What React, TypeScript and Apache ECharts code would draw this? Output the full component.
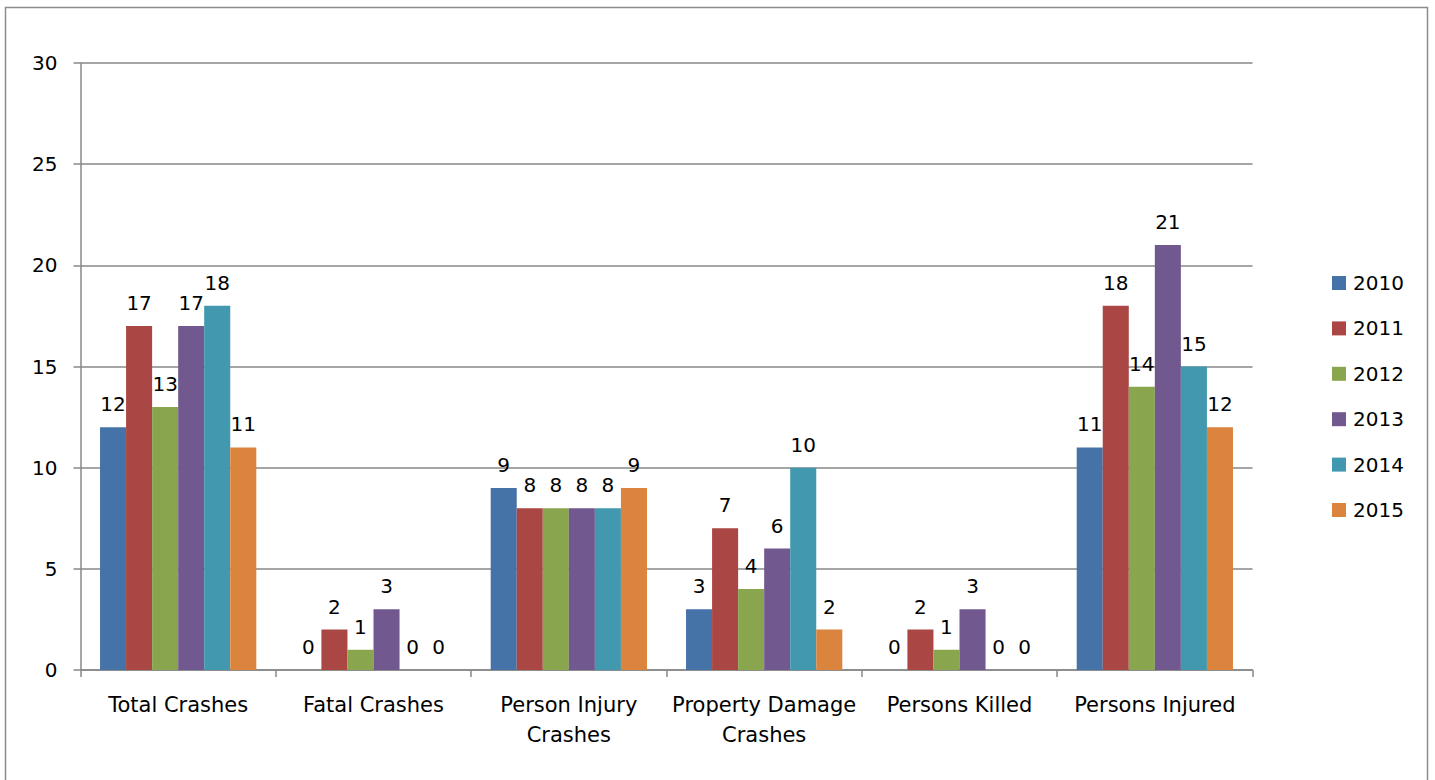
import React, { useEffect, useRef } from "react";
import * as echarts from "echarts";

const categories = [
  "Total Crashes",
  "Fatal Crashes",
  "Person Injury\nCrashes",
  "Property Damage\nCrashes",
  "Persons Killed",
  "Persons Injured",
];
const years = ["2010", "2011", "2012", "2013", "2014", "2015"];
const v2010 = [12, 0, 9, 3, 0, 11];
const v2011 = [17, 2, 8, 7, 2, 18];
const v2012 = [13, 1, 8, 4, 1, 14];
const v2013 = [17, 3, 8, 6, 3, 21];
const v2014 = [18, 0, 8, 10, 0, 15];
const v2015 = [11, 0, 9, 2, 0, 12];
const seriesValues = [v2010, v2011, v2012, v2013, v2014, v2015];
const colors = ["#4572A7", "#AA4643", "#89A54E", "#71588F", "#4198AF", "#DB843D"];

const FONT = "DejaVu Sans";
const GRAY = "#878787";

export default function App() {
  const ref = useRef<HTMLDivElement>(null);
  useEffect(() => {
    if (!ref.current) return;
    const chart = echarts.init(ref.current, undefined, { renderer: "svg" });
    chart.setOption({
      animation: false,
      color: colors,
      textStyle: { fontFamily: FONT },
      graphic: [
        {
          type: "rect",
          shape: { x: 5.5, y: 7.5, width: 1422, height: 820 },
          style: { fill: "none", stroke: "#8c8c8c", lineWidth: 1.5 },
          silent: true,
        },
      ],
      grid: { left: 80.5, right: 182.5, top: 63, bottom: 110, containLabel: false },
      legend: {
        orient: "vertical",
        left: 1327,
        top: 268,
        itemWidth: 14,
        itemHeight: 14,
        itemGap: 25.4,
        icon: "rect",
        data: years,
        textStyle: { fontFamily: FONT, fontSize: 20, color: "#000", lineHeight: 20, padding: [0, 0, 0, 2] },
      },
      xAxis: {
        type: "category",
        data: categories,
        axisLine: { lineStyle: { color: GRAY, width: 1.5 } },
        axisTick: { show: true, length: 7, lineStyle: { color: GRAY, width: 1.5 } },
        axisLabel: {
          fontFamily: FONT,
          fontSize: 21,
          color: "#000",
          margin: 20,
          lineHeight: 30,
          interval: 0,
        },
      },
      yAxis: {
        type: "value",
        min: 0,
        max: 30,
        interval: 5,
        axisLine: { show: true, lineStyle: { color: GRAY, width: 1.5 } },
        axisTick: { show: true, length: 7, lineStyle: { color: GRAY, width: 1.5 } },
        splitLine: { lineStyle: { color: GRAY, width: 1.5 } },
        axisLabel: { fontFamily: FONT, fontSize: 20, color: "#000", margin: 23 },
      },
      series: years.map((y, i) => ({
        name: y,
        type: "bar",
        data: seriesValues[i],
        barGap: "0%",
        barCategoryGap: "20%",
        itemStyle: { color: colors[i] },
        label: {
          show: true,
          position: "top",
          distance: 13,
          fontFamily: FONT,
          fontSize: 20,
          color: "#000",
        },
      })),
    });
    return () => chart.dispose();
  }, []);
  return (
    <div
      ref={ref}
      style={{ position: "fixed", left: 0, top: 0, width: 1435, height: 780, background: "#fff" }}
    />
  );
}
